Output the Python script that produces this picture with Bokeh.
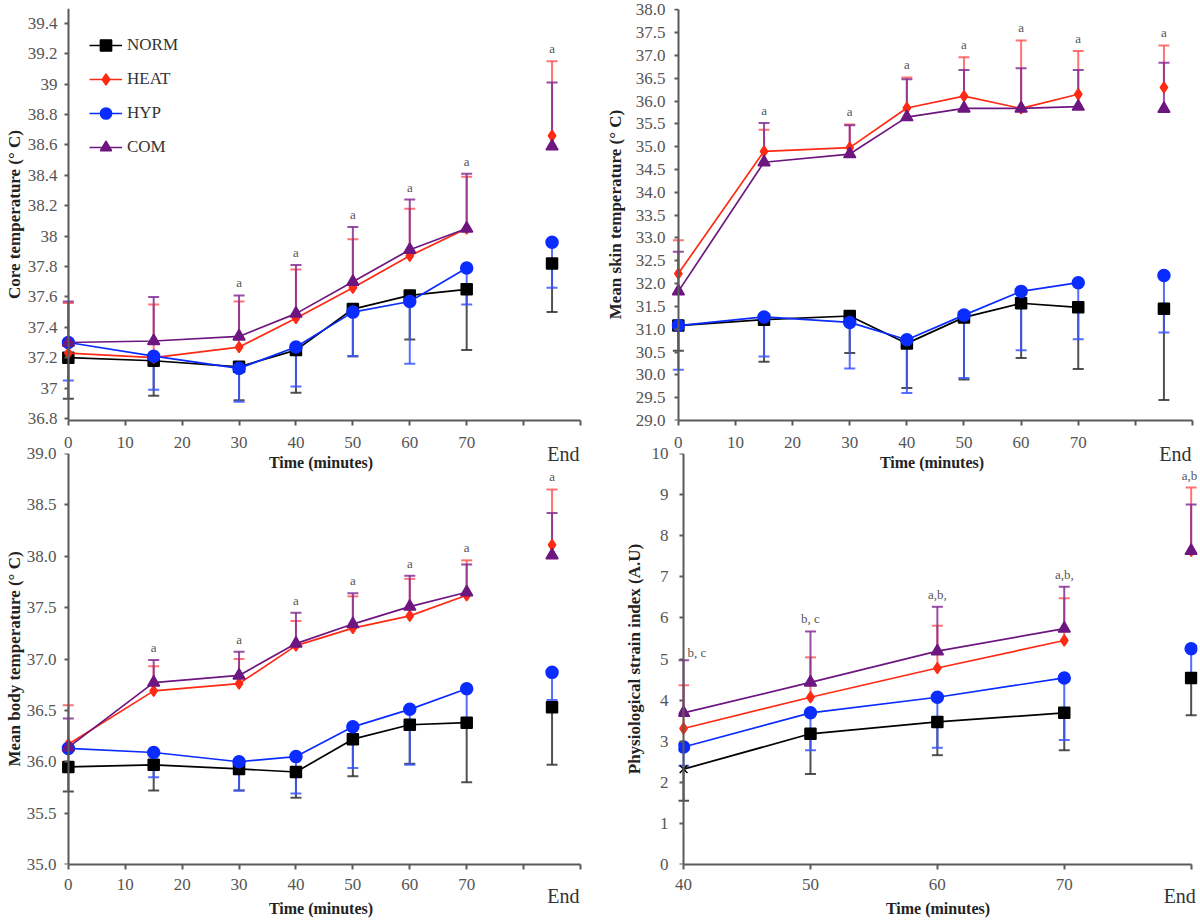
import numpy as np
from bokeh.plotting import figure
from bokeh.models import (ColumnDataSource, Legend, LegendItem, FixedTicker,
                          Range1d, NumeralTickFormatter, LinearAxis)
from bokeh.layouts import row, column
from bokeh.embed import file_html
from bokeh.resources import INLINE
from bokeh.core.properties import value

# ---------------------------------------------------------------- data
GROUPS = ["NORM", "HEAT", "HYP", "COM"]
TIME = [0, 15, 30, 40, 50, 60, 70]       # minutes
END_X = 85                               # slot of the "End" values (panels a-c)
PSI_TIME = [40, 50, 60, 70]
PSI_END_X = 80                           # slot of the "End" values (panel d)

# Core temperature (deg C), last value = End
CORE_NORM = [37.20, 37.18, 37.14, 37.25, 37.52, 37.61, 37.65, 37.82]
CORE_HEAT = [37.23, 37.20, 37.27, 37.46, 37.66, 37.87, 38.05, 38.66]
CORE_HYP = [37.30, 37.21, 37.13, 37.27, 37.50, 37.57, 37.79, 37.96]
CORE_COM = [37.30, 37.31, 37.34, 37.49, 37.70, 37.91, 38.05, 38.59]
CORE_NORM_BAR = [36.93, 36.95, 36.92, 36.97, 37.21, 37.32, 37.25, 37.50]
CORE_HEAT_BAR = [37.56, 37.55, 37.57, 37.78, 37.98, 38.18, 38.39, 39.15]
CORE_HYP_BAR = [37.05, 36.99, 36.91, 37.01, 37.21, 37.16, 37.55, 37.66]
CORE_COM_BAR = [37.57, 37.60, 37.61, 37.81, 38.06, 38.24, 38.41, 39.01]
CORE_SIG = ["", "", "a", "a", "a", "a", "a", "a"]

# Mean skin temperature (deg C)
SKIN_NORM = [31.08, 31.21, 31.29, 30.69, 31.26, 31.57, 31.48, 31.45]
SKIN_HEAT = [32.22, 34.90, 34.98, 35.85, 36.11, 35.84, 36.15, 36.30]
SKIN_HYP = [31.08, 31.27, 31.15, 30.77, 31.31, 31.83, 32.02, 32.18]
SKIN_COM = [31.83, 34.66, 34.84, 35.65, 35.84, 35.84, 35.88, 35.83]
SKIN_NORM_BAR = [30.53, 30.29, 30.48, 29.71, 29.90, 30.37, 30.13, 29.45]
SKIN_HEAT_BAR = [32.95, 35.37, 35.49, 36.52, 36.96, 37.33, 37.10, 37.22]
SKIN_HYP_BAR = [30.11, 30.40, 30.14, 29.60, 29.93, 30.54, 30.78, 30.93]
SKIN_COM_BAR = [32.70, 35.52, 35.47, 36.48, 36.68, 36.72, 36.68, 36.84]
SKIN_SIG = ["", "a", "a", "a", "a", "a", "a", "a"]

# Mean body temperature (deg C)
BODY_NORM = [35.95, 35.97, 35.93, 35.90, 36.22, 36.36, 36.38, 36.53]
BODY_HEAT = [36.17, 36.69, 36.76, 37.13, 37.30, 37.42, 37.62, 38.11]
BODY_HYP = [36.13, 36.09, 36.00, 36.05, 36.34, 36.51, 36.71, 36.87]
BODY_COM = [36.14, 36.77, 36.84, 37.15, 37.34, 37.51, 37.65, 38.01]
BODY_NORM_BAR = [35.71, 35.72, 35.72, 35.65, 35.86, 35.98, 35.80, 35.97]
BODY_HEAT_BAR = [36.55, 36.93, 37.00, 37.37, 37.61, 37.78, 37.96, 38.65]
BODY_HYP_BAR = [35.92, 35.85, 35.72, 35.69, 35.94, 35.97, 36.38, 36.60]
BODY_COM_BAR = [36.42, 36.99, 37.07, 37.45, 37.64, 37.81, 37.92, 38.42]
BODY_SIG = ["", "a", "a", "a", "a", "a", "a", "a"]

# Physiological strain index (A.U), 40-70 min + End
PSI_NORM = [2.32, 3.18, 3.47, 3.69, 4.54]
PSI_HEAT = [3.31, 4.07, 4.78, 5.45, 7.63]
PSI_HYP = [2.86, 3.69, 4.07, 4.54, 5.25]
PSI_COM = [3.69, 4.43, 5.19, 5.74, 7.63]
PSI_NORM_BAR = [1.55, 2.20, 2.66, 2.78, 3.63]
PSI_HEAT_BAR = [4.36, 5.04, 5.81, 6.48, 9.17]
PSI_HYP_BAR = [2.40, 2.78, 2.84, 3.03, 4.60]
PSI_COM_BAR = [4.97, 5.67, 6.27, 6.76, 8.76]
PSI_SIG = ["b, c", "b, c", "a,b,", "a,b,", "a,b,"]

X_TICKS = [0, 10, 20, 30, 40, 50, 60, 70, 80, 90]
PSI_X_TICKS = [40, 50, 60, 70, 80]

# ---------------------------------------------------------------- style
FONT = "Liberation Serif"
COL = {"NORM": "#000000", "HEAT": "#ff2a14", "HYP": "#0a2cff", "COM": "#6e1680"}
ERR = {"NORM": "#333333", "HEAT": "#ff5a5a", "HYP": "#3a55ff", "COM": "#862f94"}
MARK = {"NORM": "square", "HEAT": "diamond", "HYP": "circle", "COM": "triangle"}
SIZE = {"NORM": 11, "HEAT": 11, "HYP": 12, "COM": 12}
AX = "#5a5a5a"


def make_fig(w, h, xr, yr, bl, br, bt, bb):
    p = figure(width=w, height=h, x_range=Range1d(*xr), y_range=Range1d(*yr),
               output_backend="svg", toolbar_location=None,
               min_border_left=bl, min_border_right=br,
               min_border_top=bt, min_border_bottom=bb)
    p.outline_line_color = None
    p.grid.visible = False
    p.background_fill_alpha = 0
    p.border_fill_alpha = 0
    return p


def setup_axes(p, xticks, xover, xbounds, x_s, end_at, end_s, title_s,
               yticks, yfmt, ybounds, y_at, y_s, ytitle, ytitle_s):
    # bottom axis: line, ticks and minute labels
    xa = p.xaxis[0]
    xa.ticker = FixedTicker(ticks=xticks)
    xa.major_label_overrides = xover
    xa.bounds = xbounds
    xa.axis_line_color = AX
    xa.axis_line_width = 2
    xa.major_tick_line_color = AX
    xa.major_tick_line_width = 2
    xa.major_tick_out = 5
    xa.major_tick_in = 0
    xa.minor_tick_line_color = None
    xa.major_label_standoff = x_s
    xa.major_label_text_font = FONT
    xa.major_label_text_font_size = "17px"
    xa.major_label_text_color = "#555555"
    # second bottom axis: "End" label and axis title
    ea = LinearAxis(ticker=FixedTicker(ticks=[end_at]), major_label_overrides={end_at: "End"},
                    bounds=xbounds, axis_line_color=None, major_tick_line_color=None,
                    minor_tick_line_color=None, major_tick_out=0, major_tick_in=0,
                    major_label_standoff=end_s, major_label_text_font=FONT,
                    major_label_text_font_size="20px", major_label_text_color="#333333",
                    axis_label="Time (minutes)", axis_label_standoff=title_s,
                    axis_label_text_font=FONT, axis_label_text_font_style="bold",
                    axis_label_text_font_size="16px", axis_label_text_color="#222222")
    p.add_layout(ea, "below")
    # left axis: tick labels and title only
    ya = p.yaxis[0]
    ya.ticker = FixedTicker(ticks=yticks)
    ya.formatter = NumeralTickFormatter(format=yfmt)
    ya.axis_line_color = None
    ya.major_tick_line_color = None
    ya.minor_tick_line_color = None
    ya.major_tick_out = 0
    ya.major_tick_in = 0
    ya.major_label_standoff = y_s
    ya.major_label_text_font = FONT
    ya.major_label_text_font_size = "17px"
    ya.major_label_text_color = "#555555"
    ya.axis_label = ytitle
    ya.axis_label_standoff = ytitle_s
    ya.axis_label_text_font = FONT
    ya.axis_label_text_font_style = "bold"
    ya.axis_label_text_font_size = "17px"
    ya.axis_label_text_color = "#222222"
    # axis line + ticks sitting at the first time point
    fa = LinearAxis(fixed_location=y_at, ticker=FixedTicker(ticks=yticks), bounds=ybounds,
                    axis_line_color=AX, axis_line_width=2, major_tick_line_color=AX,
                    major_tick_line_width=2, major_tick_in=4, major_tick_out=0,
                    minor_tick_line_color=None, major_label_standoff=0,
                    major_label_text_color=None, major_label_text_font_size="1px")
    p.add_layout(fa, "right")


def draw(p, xs, end_x, means, bars, norm_markers=None):
    allx = list(xs) + [end_x]
    n = len(xs)
    for g in GROUPS:
        src = ColumnDataSource(dict(x=allx, y=means[g], cap=bars[g]))
        p.segment(x0="x", y0="y", x1="x", y1="cap", source=src,
                  line_color=ERR[g], line_width=2, line_alpha=0.85)
        p.scatter(x="x", y="cap", source=src, marker="dash", size=11,
                  line_color=ERR[g], line_width=2, line_alpha=0.85)
    rends = {}
    for g in GROUPS:
        ln = p.line(xs, means[g][:n], line_color=COL[g], line_width=1.7)
        mk = MARK[g]
        if g == "NORM" and norm_markers is not None:
            mk = norm_markers
        sc = p.scatter(allx, means[g], marker=mk, size=SIZE[g],
                       fill_color=COL[g], line_color=COL[g], line_width=1.5)
        rends[g] = [ln, sc]
    return rends, allx


def sig_text(p, allx, bars, sig, idx=None, **kw):
    top = [max(a, b) for a, b in zip(bars["HEAT"], bars["COM"])]
    sel = [i for i, s in enumerate(sig) if s and (idx is None or i in idx)]
    src = ColumnDataSource(dict(x=[allx[i] for i in sel], y=[top[i] for i in sel],
                                t=[sig[i] for i in sel]))
    args = dict(text_align="center", text_baseline="bottom", y_offset=-5)
    args.update(kw)
    p.text(x="x", y="y", text="t", source=src, text_font=value(FONT),
           text_font_size="13px", text_color="#555555", **args)


# ---------------------------------------------------------------- panel a
p1 = make_fig(600, 474, (-1.2, 90), (36.787, 39.497), 61, 20, 8, 54)
setup_axes(p1, X_TICKS, {80: "", 90: ""}, (0, 90), 11, 87, -8, -14,
           [round(36.8 + 0.2 * i, 1) for i in range(14)], "0.[0]", (36.787, 39.497), 0,
           4, "Core temperature (\u00b0 C)", 1)
m1 = dict(NORM=CORE_NORM, HEAT=CORE_HEAT, HYP=CORE_HYP, COM=CORE_COM)
b1 = dict(NORM=CORE_NORM_BAR, HEAT=CORE_HEAT_BAR, HYP=CORE_HYP_BAR, COM=CORE_COM_BAR)
r1, ax1 = draw(p1, TIME, END_X, m1, b1)
sig_text(p1, ax1, b1, CORE_SIG)
legend = Legend(items=[LegendItem(label=g, renderers=r1[g]) for g in GROUPS],
                location=(28, 259), padding=0, margin=0, spacing=6,
                glyph_width=33, glyph_height=28, label_height=28, label_standoff=5,
                border_line_color=None, background_fill_alpha=0,
                label_text_font=FONT, label_text_font_size="17px",
                label_text_color="#333333")
p1.add_layout(legend)

# ---------------------------------------------------------------- panel b
p2 = make_fig(600, 474, (-1.2, 90), (29.0, 38.03), 71, 8, 8, 54)
setup_axes(p2, X_TICKS, {80: "", 90: ""}, (0, 90), 11, 87, -8, -14,
           [29.0 + 0.5 * i for i in range(19)], "0.0", (29.0, 38.0), 0,
           6, "Mean skin temperature (\u00b0 C)", 8)
m2 = dict(NORM=SKIN_NORM, HEAT=SKIN_HEAT, HYP=SKIN_HYP, COM=SKIN_COM)
b2 = dict(NORM=SKIN_NORM_BAR, HEAT=SKIN_HEAT_BAR, HYP=SKIN_HYP_BAR, COM=SKIN_COM_BAR)
r2, ax2 = draw(p2, TIME, END_X, m2, b2)
sig_text(p2, ax2, b2, SKIN_SIG)

# ---------------------------------------------------------------- panel c
p3 = make_fig(600, 477, (-1.2, 90), (35.0, 39.0), 61, 20, 10, 56)
setup_axes(p3, X_TICKS, {80: "", 90: ""}, (0, 90), 9, 87, -8, -10,
           [35.0 + 0.5 * i for i in range(9)], "0.0", (35.0, 39.0), 0,
           5, "Mean body temperature (\u00b0 C)", 0)
m3 = dict(NORM=BODY_NORM, HEAT=BODY_HEAT, HYP=BODY_HYP, COM=BODY_COM)
b3 = dict(NORM=BODY_NORM_BAR, HEAT=BODY_HEAT_BAR, HYP=BODY_HYP_BAR, COM=BODY_COM_BAR)
r3, ax3 = draw(p3, TIME, END_X, m3, b3)
sig_text(p3, ax3, b3, BODY_SIG)

# ---------------------------------------------------------------- panel d
p4 = make_fig(600, 477, (39.6, 80.5), (0, 10), 78, 3, 10, 56)
setup_axes(p4, PSI_X_TICKS, {80: ""}, (40, 80), 9, 79.1, -8, -10,
           list(range(11)), "0", (0, 10), 40,
           10, "Physiological strain index (A.U)", 5)
m4 = dict(NORM=PSI_NORM, HEAT=PSI_HEAT, HYP=PSI_HYP, COM=PSI_COM)
b4 = dict(NORM=PSI_NORM_BAR, HEAT=PSI_HEAT_BAR, HYP=PSI_HYP_BAR, COM=PSI_COM_BAR)
r4, ax4 = draw(p4, PSI_TIME, PSI_END_X, m4, b4,
               norm_markers=["x", "square", "square", "square", "square"])
sig_text(p4, ax4, b4, PSI_SIG, idx=[0], text_align="left", x_offset=4, y_offset=0)
sig_text(p4, ax4, b4, PSI_SIG, idx=[1, 2, 3, 4])

top = row(p1, p2)
bottom = row(p3, p4)
bottom.margin = (-31, 0, 0, 0)
layout = column(top, bottom)

open("out.html", "w").write(file_html(layout, INLINE))
